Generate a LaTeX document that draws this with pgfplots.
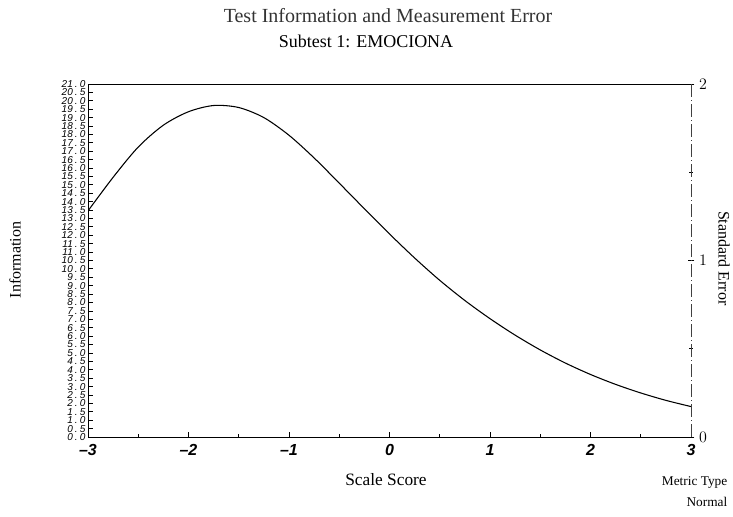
\documentclass[border=0pt]{standalone}
\usepackage{fontspec}
\setmainfont{Liberation Serif}
\setsansfont{Liberation Sans}
\usepackage{pgfplots}
\pgfplotsset{compat=1.18}
\begin{document}
\begin{tikzpicture}
\path[use as bounding box] (0,0) rectangle (549.75pt,387.75pt);
\begin{axis}[
  at={(66pt,60pt)}, anchor=south west, scale only axis,
  width=452.25pt, height=264.75pt,
  xmin=-3, xmax=3, ymin=0, ymax=21,
  axis x line=box, axis y line*=left,
  axis line style={line width=0.7pt},
  xtick={-3,-2,-1,0,1,2,3},
  xticklabels={--3,--2,--1,0,1,2,3},
  minor x tick num=1,
  xtick pos=bottom,
  ytick distance=0.5,
  tick style={black, line width=0.6pt},
  major tick length=4pt, minor tick length=2.5pt,
  xticklabel style={font=\sffamily\bfseries\itshape\fontsize{12}{12}\selectfont, yshift=-2pt},
  yticklabel style={font=\sffamily\itshape\fontsize{7.5}{7.5}\selectfont, xshift=-1.5pt, inner sep=0.2pt},
  /pgf/number format/.cd, fixed, fixed zerofill, precision=1,
  set decimal separator={\hspace{1.6pt}.\hspace{1.6pt}}, assume math mode=true,
]
\addplot[black, line width=0.8pt, smooth] coordinates {
(-3.00,13.45) (-2.75,15.45) (-2.50,17.25) (-2.25,18.55) (-2.00,19.35)
(-1.75,19.72) (-1.50,19.6) (-1.25,19.0) (-1.00,17.95) (-0.75,16.6)
(-0.50,15.1) (-0.25,13.58) (0.00,12.08) (0.25,10.65) (0.50,9.32)
(0.75,8.12) (1.00,7.04) (1.25,6.06) (1.50,5.18) (1.75,4.40)
(2.00,3.72) (2.25,3.13) (2.50,2.62) (2.75,2.18) (3.00,1.81)
};
\end{axis}
\begin{axis}[
  at={(66pt,60pt)}, anchor=south west, scale only axis,
  width=452.25pt, height=264.75pt,
  xmin=-3, xmax=3, ymin=0, ymax=2,
  axis x line=none, axis y line*=right,
  y axis line style={black!75, line width=0.6pt, dash pattern=on 10pt off 2pt on 1pt off 2pt},
  ytick={0,1,2}, minor ytick={0.5,1.5},
  tick align=center,
  tick style={black, line width=0.6pt},
  major tick length=5pt, minor tick length=3pt,
  yticklabel style={font=\fontsize{12}{12}\selectfont},
]
\addplot[draw=none] coordinates {(-3,0) (3,2)};
\end{axis}
\node[font=\fontsize{15}{15}\selectfont, text=black!80] at (291pt,375.75pt) {Test Information and Measurement Error};
\node[font=\fontsize{13.5}{13.5}\selectfont] at (274.5pt,357pt) {Subtest 1: EMOCIONA};
\node[font=\fontsize{12}{12}\selectfont, rotate=90] at (11.25pt,192.75pt) {Information};
\node[font=\fontsize{12}{12}\selectfont, rotate=-90] at (543pt,194pt) {Standard Error};
\node[font=\fontsize{13}{13}\selectfont] at (289.5pt,27.75pt) {Scale Score};
\node[font=\fontsize{10}{10}\selectfont, anchor=east] at (549pt,25.5pt) {Metric Type};
\node[font=\fontsize{10}{10}\selectfont, anchor=east] at (549pt,11.25pt) {Normal};
\end{tikzpicture}
\end{document}
